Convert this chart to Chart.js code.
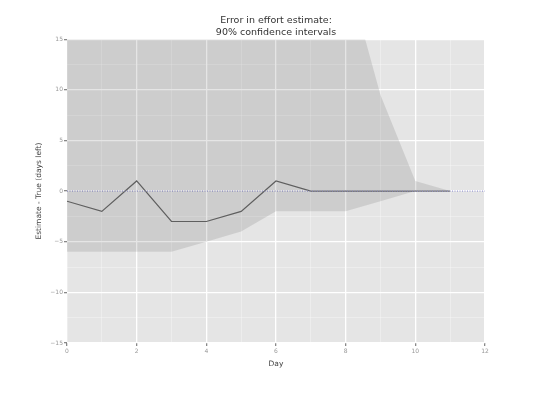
<!DOCTYPE html>
<html>
<head>
<meta charset="utf-8">
<script src="https://cdn.jsdelivr.net/npm/chart.js@4"></script>
<style>
  html, body { margin: 0; padding: 0; background: #fff; }
  #chart { display: block; }
</style>
</head>
<body>
<canvas id="chart" width="540" height="393"></canvas>
<script>
// days since start
const days = [0, 1, 2, 3, 4, 5, 6, 7, 8, 9, 10, 11];
// estimate minus true remaining effort
const estimateError = [-1, -2, 1, -3, -3, -2, 1, 0, 0, 0, 0, 0];
// 90% confidence interval bounds (upper runs off the top early on)
const upperBound = [40, 40, 40, 40, 40, 40, 40, 40, 22, 9.5, 1, 0];
const lowerBound = [-6, -6, -6, -6, -5, -4, -2, -2, -2, -1, 0, 0];
const yTicks = [-15, -10, -5, 0, 5, 10, 15];

const toPoints = (vals) => days.map((d, i) => ({ x: d, y: vals[i] }));

// grey panel behind the plot, like the original
const panelBg = {
  id: "panelBg",
  beforeDraw(chart) {
    const { ctx, chartArea: a } = chart;
    ctx.save();
    ctx.fillStyle = "#e5e5e5";
    ctx.fillRect(a.left, a.top, a.right - a.left, a.bottom - a.top);
    ctx.restore();
  }
};

const tickFont = { family: "DejaVu Sans", size: 6 };

new Chart(document.getElementById("chart"), {
  type: "line",
  plugins: [panelBg],
  data: {
    datasets: [
      {
        label: "upper",
        data: toPoints(upperBound),
        borderWidth: 0,
        pointRadius: 0,
        backgroundColor: "rgba(0,0,0,0.1)",
        fill: "+1",
        tension: 0
      },
      {
        label: "lower",
        data: toPoints(lowerBound),
        borderWidth: 0,
        pointRadius: 0,
        fill: false
      },
      {
        label: "zero",
        data: [{ x: 0, y: 0 }, { x: 12, y: 0 }],
        borderColor: "#9a9ad0",
        borderWidth: 1.2,
        borderDash: [1, 1.5],
        pointRadius: 0,
        fill: false
      },
      {
        label: "error",
        data: toPoints(estimateError),
        borderColor: "#6a6a6a",
        borderWidth: 1.2,
        pointRadius: 0,
        fill: false,
        tension: 0
      }
    ]
  },
  options: {
    responsive: false,
    animation: false,
    layout: { padding: { top: 14, right: 55, bottom: 24, left: 0 } },
    plugins: {
      legend: { display: false },
      tooltip: { enabled: false },
      title: {
        display: true,
        fullSize: false,
        text: ["Error in effort estimate:", "90% confidence intervals"],
        color: "#333",
        font: { family: "DejaVu Sans", size: 9.5, weight: "normal", lineHeight: 1.3 },
        padding: { top: 0, bottom: 0.5 }
      }
    },
    scales: {
      x: {
        type: "linear",
        min: 0,
        max: 12,
        border: { display: false },
        ticks: {
          stepSize: 1,
          color: "#999",
          font: tickFont,
          padding: 2,
          maxRotation: 0,
          autoSkip: false,
          callback: (v) => (v % 2 === 0 ? String(v) : "")
        },
        grid: {
          color: (c) => (c.tick && c.tick.value % 2 === 0 ? "#ffffff" : "rgba(255,255,255,0.45)"),
          lineWidth: (c) => (c.tick && c.tick.value % 2 === 0 ? 1.3 : 0.7),
          tickColor: (c) => (c.tick && c.tick.value % 2 === 0 ? "#888" : "rgba(0,0,0,0)"),
          tickLength: 3
        },
        title: {
          display: true,
          text: "Day",
          color: "#444",
          font: { family: "DejaVu Sans", size: 7.5 },
          padding: { top: 1, bottom: 0 }
        },
        afterFit: (s) => { s.height = 26; }
      },
      y: {
        min: -15,
        max: 15,
        border: { display: false },
        afterBuildTicks: (s) => {
          const t = [];
          for (let v = -15; v <= 15; v += 2.5) t.push({ value: v });
          s.ticks = t;
        },
        ticks: {
          color: "#999",
          font: tickFont,
          padding: 1,
          callback: (v) => (yTicks.includes(v) ? String(v).replace("-", "\u2212") : "")
        },
        grid: {
          color: (c) => (c.tick && yTicks.includes(c.tick.value) ? "#ffffff" : "rgba(255,255,255,0.45)"),
          lineWidth: (c) => (c.tick && yTicks.includes(c.tick.value) ? 1.3 : 0.7),
          tickColor: (c) => (c.tick && yTicks.includes(c.tick.value) ? "#888" : "rgba(0,0,0,0)"),
          tickLength: 3
        },
        title: {
          display: true,
          text: "Estimate - True (days left)",
          color: "#444",
          font: { family: "DejaVu Sans", size: 7.5 },
          padding: { top: 35, bottom: 0 }
        },
        afterFit: (s) => { s.width = 67; }
      }
    }
  }
});
</script>
</body>
</html>
